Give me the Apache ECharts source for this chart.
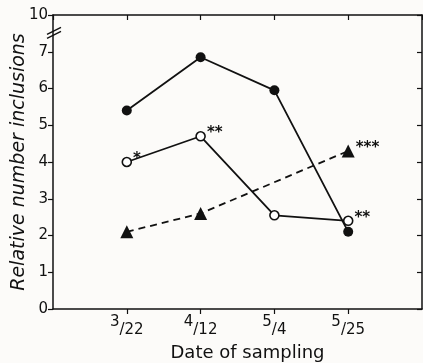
<!DOCTYPE html>
<html>
<head>
<meta charset="utf-8">
<script src="https://cdn.jsdelivr.net/npm/echarts@6/dist/echarts.min.js"></script>
<style>
  html, body { margin: 0; padding: 0; background: #fcfbf9; }
  #chart { width: 423px; height: 363px; }
</style>
</head>
<body>
<div id="chart"></div>
<script>
// sampling dates, shown as fractions (month over day)
const dates = ['3/22', '4/12', '5/4', '5/25'];
// y tick labels; the top position is the broken "10"
const yTickLabels = ['0', '1', '2', '3', '4', '5', '6', '7', '10'];

const filledCircles = [5.4, 6.85, 5.95, 2.1];
const openCircles = [4.0, 4.7, 2.55, 2.4];
const openMarks = ['*', '**', '', '**'];
const triangles = [2.1, 2.6, null, 4.3];
const triangleMarks = ['', '', '', '***'];

const font = 'DejaVu Sans';

function pairs(values, marks) {
    let out = [];
    values.forEach((v, i) => {
        if (v === null) return;
        out.push({ value: [i, v], mark: marks ? marks[i] : '' });
    });
    return out;
}

let myChart = echarts.init(document.getElementById('chart'));

const markLabel = {
    show: true,
    position: 'right',
    distance: 1,
    offset: [0, -3],
    color: '#111',
    fontFamily: font,
    fontSize: 15,
    fontWeight: 'bold',
    formatter: p => p.data.mark
};

const frameLine = { onZero: false, lineStyle: { color: '#111', width: 1.5 } };

const option = {
    backgroundColor: '#fcfbf9',
    animation: false,
    grid: { left: 53, top: 15, right: 1, bottom: 54, outerBoundsMode: 'none' },
    xAxis: [
        {
            type: 'value',
            min: -1,
            max: 4,
            interval: 1,
            name: 'Date of sampling',
            nameLocation: 'middle',
            nameGap: 35,
            nameMoveOverlap: false,
            nameTextStyle: { color: '#111', fontFamily: font, fontSize: 18, padding: [0, 0, 0, 20] },
            axisLine: frameLine,
            axisTick: { show: true, length: 5, lineStyle: { color: '#111', width: 1.2 } },
            splitLine: { show: false },
            axisLabel: {
                margin: 6,
                showMinLabel: false,
                showMaxLabel: false,
                formatter: v => {
                    const d = dates[v];
                    if (!d) return '';
                    const parts = d.split('/');
                    return '{a|' + parts[0] + '}{b|/' + parts[1] + '}';
                },
                rich: {
                    a: { fontFamily: font, fontSize: 15, color: '#111', padding: [0, 0, 8, 0] },
                    b: { fontFamily: font, fontSize: 15, color: '#111', padding: [8, 0, 0, 0] }
                }
            }
        },
        {
            type: 'value',
            position: 'top',
            min: -1,
            max: 4,
            interval: 1,
            axisLine: frameLine,
            axisTick: { show: true, inside: true, length: 5, lineStyle: { color: '#111', width: 1.2 } },
            splitLine: { show: false },
            axisLabel: { show: false }
        }
    ],
    yAxis: [
        {
            type: 'value',
            min: 0,
            max: 8,
            interval: 1,
            name: 'Relative number inclusions',
            nameLocation: 'middle',
            nameGap: 24,
            nameMoveOverlap: false,
            nameTextStyle: { color: '#111', fontFamily: font, fontSize: 19, fontStyle: 'italic' },
            axisLine: { show: true, onZero: false, lineStyle: { color: '#111', width: 1.5 } },
            axisTick: { show: true, length: 5, lineStyle: { color: '#111', width: 1.2 } },
            splitLine: { show: false },
            axisLabel: {
                margin: 5,
                color: '#111',
                fontFamily: font,
                fontSize: 15,
                formatter: v => yTickLabels[v]
            }
        },
        {
            type: 'value',
            position: 'right',
            min: 0,
            max: 8,
            interval: 1,
            axisLine: { show: true, onZero: false, lineStyle: { color: '#111', width: 1.5 } },
            axisTick: { show: true, inside: true, length: 5, lineStyle: { color: '#111', width: 1.2 } },
            splitLine: { show: false },
            axisLabel: { show: false }
        }
    ],
    series: [
        {
            type: 'line',
            data: pairs(filledCircles),
            symbol: 'circle',
            symbolSize: 10,
            itemStyle: { color: '#111' },
            lineStyle: { color: '#111', width: 1.8 },
            z: 2
        },
        {
            type: 'line',
            data: pairs(triangles, triangleMarks),
            symbol: 'triangle',
            symbolSize: 13,
            itemStyle: { color: '#111' },
            lineStyle: { color: '#111', width: 1.8, type: [7, 5] },
            label: markLabel,
            z: 3
        },
        {
            type: 'line',
            data: pairs(openCircles, openMarks),
            symbol: 'circle',
            symbolSize: 9,
            itemStyle: { color: '#fff', borderColor: '#111', borderWidth: 1.6 },
            lineStyle: { color: '#111', width: 1.8 },
            label: markLabel,
            z: 4
        }
    ]
};

myChart.setOption(option);

// axis break "//" between 7 and 10
const bp = myChart.convertToPixel({ xAxisIndex: 0, yAxisIndex: 0 }, [-1, 7.5]);
myChart.setOption({
    graphic: [
        {
            type: 'polygon',
            shape: { points: [[bp[0] - 6, bp[1] + 4], [bp[0] + 7, bp[1] - 3], [bp[0] + 7, bp[1] - 6], [bp[0] - 6, bp[1] + 1]] },
            style: { fill: '#fcfbf9' }
        },
        {
            type: 'line',
            shape: { x1: bp[0] - 6, y1: bp[1] + 5, x2: bp[0] + 8, y2: bp[1] - 2 },
            style: { stroke: '#111', lineWidth: 1.4 }
        },
        {
            type: 'line',
            shape: { x1: bp[0] - 6, y1: bp[1] + 1, x2: bp[0] + 8, y2: bp[1] - 6 },
            style: { stroke: '#111', lineWidth: 1.4 }
        }
    ]
});

window.addEventListener('resize', () => {
    myChart.resize()
})
</script>
</body>
</html>
